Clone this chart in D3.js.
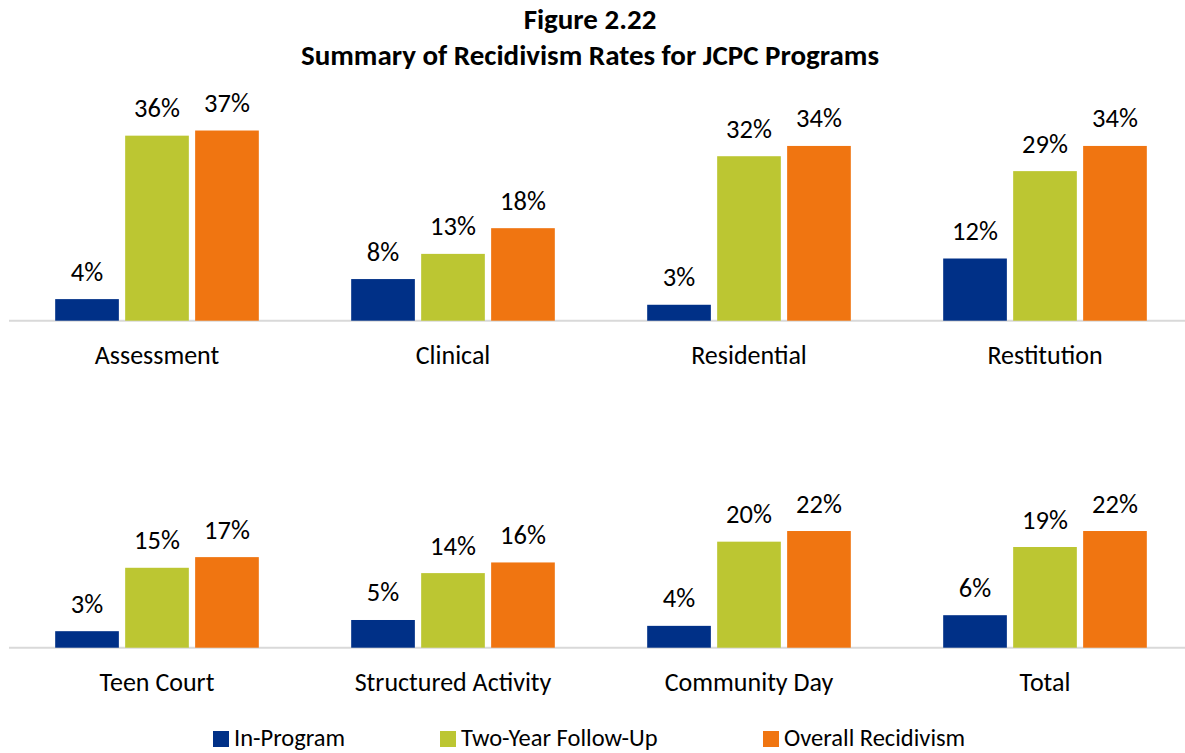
<!DOCTYPE html>
<html>
<head>
<meta charset="utf-8">
<script src="https://cdn.jsdelivr.net/npm/d3@7"></script>
<style>
  body { margin: 0; background: #fff; }
  svg { display: block; font-family: Carlito, Calibri, Lato, sans-serif; }
</style>
</head>
<body>
<div id="chart-area"></div>
<script>
// data (percent)
var series = ["In-Program", "Two-Year Follow-Up", "Overall Recidivism"];
var colors = ["#003087", "#BCC632", "#F07511"];

var topPrograms = ["Assessment", "Clinical", "Residential", "Restitution"];
var topInProgram = [4.2, 8.1, 3.1, 12.1];
var topTwoYear = [36.0, 13.0, 32.0, 29.1];
var topOverall = [37.0, 18.0, 34.0, 34.0];

var bottomPrograms = ["Teen Court", "Structured Activity", "Community Day", "Total"];
var bottomInProgram = [3.1, 5.2, 4.1, 6.1];
var bottomTwoYear = [15.0, 14.0, 19.9, 18.9];
var bottomOverall = [17.0, 16.0, 21.9, 21.9];

var width = 1185, height = 753;

var svg = d3.select("#chart-area")
	.append("svg")
	.attr("width", width)
	.attr("height", height);

// title
svg.append("text")
	.attr("x", 590)
	.attr("y", 29)
	.attr("text-anchor", "middle")
	.attr("font-size", "29px")
	.attr("font-weight", "bold")
	.text("Figure 2.22");
svg.append("text")
	.attr("x", 590)
	.attr("y", 65)
	.attr("text-anchor", "middle")
	.attr("font-size", "29px")
	.attr("font-weight", "bold")
	.text("Summary of Recidivism Rates for JCPC Programs");

/* one panel = one row of grouped bars */
function drawPanel(programs, values, baseline, yMax, yTop) {
	var rows = programs.map(function(p, i) {
		return { program: p, values: values.map(function(v) { return v[i]; }) };
	});

	var x0 = d3.scaleBand()
		.domain(programs)
		.range([9, 1193]);

	var x1 = d3.scaleBand()
		.domain(series)
		.range([0, x0.bandwidth()])
		.paddingInner(0.09)
		.paddingOuter(0.66);

	var y = d3.scaleLinear()
		.domain([0, yMax])
		.range([baseline, yTop]);

	var g = svg.append("g");

	// axis line
	g.append("line")
		.attr("x1", 9)
		.attr("x2", width)
		.attr("y1", y(0))
		.attr("y2", y(0))
		.attr("stroke", "#D9D9D9")
		.attr("stroke-width", 2);

	var groups = g.selectAll(".group")
		.data(rows)
		.enter()
		.append("g")
			.attr("class", "group")
			.attr("transform", function(d) { return "translate(" + x0(d.program) + ",0)"; });

	var cells = groups.selectAll(".cell")
		.data(function(d) {
			return d.values.map(function(v, i) { return { s: series[i], v: v, c: colors[i] }; });
		})
		.enter()
		.append("g")
			.attr("class", "cell");

	cells.append("rect")
		.attr("x", function(d) { return x1(d.s); })
		.attr("y", function(d) { return y(d.v); })
		.attr("width", x1.bandwidth())
		.attr("height", function(d) { return y(0) - y(d.v); })
		.attr("fill", function(d) { return d.c; });

	cells.append("text")
		.attr("x", function(d) { return x1(d.s) + x1.bandwidth() / 2; })
		.attr("y", function(d) { return y(d.v) - 18.5; })
		.attr("text-anchor", "middle")
		.attr("font-size", "26.5px")
		.attr("fill", "#000")
		.text(function(d) { return Math.round(d.v) + "%"; });

	// category labels
	groups.append("text")
		.attr("x", x0.bandwidth() / 2)
		.attr("y", y(0) + 43)
		.attr("text-anchor", "middle")
		.attr("font-size", "26px")
		.attr("fill", "#000")
		.text(function(d) { return d.program; });
}

drawPanel(topPrograms, [topInProgram, topTwoYear, topOverall], 320.7, 40, 115.1);
drawPanel(bottomPrograms, [bottomInProgram, bottomTwoYear, bottomOverall], 647.7, 25, 514.5);

// legend
var legendX = [213, 440, 763];
var legend = svg.selectAll(".legend")
	.data(series)
	.enter()
	.append("g")
		.attr("class", "legend")
		.attr("transform", function(d, i) { return "translate(" + legendX[i] + ",731)"; });

legend.append("rect")
	.attr("width", 16)
	.attr("height", 16)
	.attr("fill", function(d, i) { return colors[i]; });

legend.append("text")
	.attr("x", 21)
	.attr("y", 15)
	.attr("font-size", "24.5px")
	.attr("fill", "#000")
	.text(function(d) { return d; });
</script>
</body>
</html>
